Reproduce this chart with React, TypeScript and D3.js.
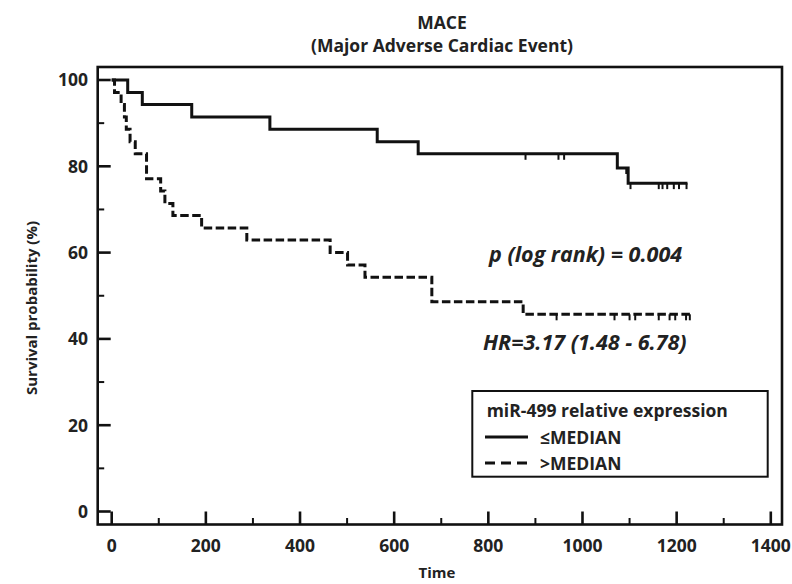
import React from 'react';
import * as d3 from 'd3';

// ---- data ----
const solidTimes = [0, 34, 65, 170, 336, 564, 651, 1074, 1097, 1223];
const solidSurvival = [100, 97.1, 94.3, 91.4, 88.6, 85.7, 82.9, 79.6, 76.1, 76.1];
const solidCensored = [879, 949, 961, 1093, 1102, 1162, 1170, 1180, 1194, 1205, 1221];

const dashedTimes = [0, 6, 20, 27, 31, 39, 50, 74, 104, 113, 130, 191, 287, 464, 501, 538, 680, 874, 1230];
const dashedSurvival = [100, 97.1, 94.3, 91.4, 88.6, 85.7, 82.9, 77.1, 74.3, 71.4, 68.6, 65.7, 62.9, 60.0, 57.1, 54.3, 48.6, 45.7, 45.7];
const dashedCensored = [945, 1068, 1100, 1112, 1162, 1185, 1197, 1220, 1228];

const xTicks = [0, 200, 400, 600, 800, 1000, 1200, 1400];
const xMinorTicks = [100, 300, 500, 700, 900, 1100, 1300];
const yTicks = [0, 20, 40, 60, 80, 100];
const yMinorTicks = [10, 30, 50, 70, 90];

const titleLines = ['MACE', '(Major Adverse Cardiac Event)'];
const xLabel = 'Time';
const yLabel = 'Survival probability (%)';
const pText = 'p (log rank) = 0.004';
const hrText = 'HR=3.17 (1.48 - 6.78)';
const legendTitle = 'miR-499 relative expression';
const seriesNames = ['\u2264MEDIAN', '>MEDIAN'];

const FONT = "'Open Sans', 'Noto Sans', sans-serif";

export default function App() {
  const W = 792, H = 584;
  const x = d3.scaleLinear().domain([0, 1400]).range([111.7, 770.8]);
  const y = d3.scaleLinear().domain([0, 100]).range([511.5, 80]);
  const frame = { left: 97.7, right: 782, top: 67, bottom: 524.5 };

  const line = d3
    .line<[number, number]>()
    .x((d) => x(d[0]))
    .y((d) => y(d[1]))
    .curve(d3.curveStepAfter);

  const solidPts: [number, number][] = solidTimes.map((t, i) => [t, solidSurvival[i]]);
  const dashedPts: [number, number][] = dashedTimes.map((t, i) => [t, dashedSurvival[i]]);

  const survAt = (times: number[], surv: number[], t: number) => {
    const i = d3.bisectRight(times, t) - 1;
    return surv[Math.max(0, i)];
  };

  const majorLen = 13;
  const minorLen = 6.5;
  const sw = 2.6;

  return (
    <svg
      width={W}
      height={H}
      style={{ position: 'fixed', left: 0, top: 0, background: '#fff' }}
      fontFamily={FONT}
      fontWeight={700}
    >
      <rect x={0} y={0} width={W} height={H} fill="#fff" />
      {/* title */}
      <text x={442} y={29} textAnchor="middle" fontSize={17.5} fill="#222">
        {titleLines[0]}
      </text>
      <text x={442} y={52} textAnchor="middle" fontSize={17.5} fill="#222">
        {titleLines[1]}
      </text>

      {/* frame */}
      <rect
        x={frame.left}
        y={frame.top}
        width={frame.right - frame.left}
        height={frame.bottom - frame.top}
        fill="none"
        stroke="#111"
        strokeWidth={sw}
      />

      {/* x ticks */}
      {xTicks.map((t) => (
        <g key={'xt' + t}>
          <line x1={x(t)} x2={x(t)} y1={frame.bottom} y2={frame.bottom - majorLen} stroke="#111" strokeWidth={sw} />
          <text x={x(t)} y={552} textAnchor="middle" fontSize={17.5} fill="#222">
            {t}
          </text>
        </g>
      ))}
      {xMinorTicks.map((t) => (
        <line key={'xm' + t} x1={x(t)} x2={x(t)} y1={frame.bottom} y2={frame.bottom - minorLen} stroke="#111" strokeWidth={2} />
      ))}

      {/* y ticks */}
      {yTicks.map((v) => (
        <g key={'yt' + v}>
          <line x1={frame.left} x2={frame.left + majorLen} y1={y(v)} y2={y(v)} stroke="#111" strokeWidth={sw} />
          <text x={88} y={y(v)} dy="0.36em" textAnchor="end" fontSize={17.5} fill="#222">
            {v}
          </text>
        </g>
      ))}
      {yMinorTicks.map((v) => (
        <line key={'ym' + v} x1={frame.left} x2={frame.left + minorLen} y1={y(v)} y2={y(v)} stroke="#111" strokeWidth={2} />
      ))}

      {/* axis labels */}
      <text x={437} y={578} textAnchor="middle" fontSize={15} fill="#222">
        {xLabel}
      </text>
      <text
        transform={`translate(37, 308) rotate(-90)`}
        textAnchor="middle"
        fontSize={15}
        fill="#222"
      >
        {yLabel}
      </text>

      {/* curves */}
      <path d={line(solidPts) || ''} fill="none" stroke="#111" strokeWidth={3} />
      <path d={line(dashedPts) || ''} fill="none" stroke="#111" strokeWidth={3} strokeDasharray="8.5,3.5" />

      {/* censored marks */}
      {solidCensored.map((t, i) => {
        const v = survAt(solidTimes, solidSurvival, t);
        return <line key={'sc' + i} x1={x(t)} x2={x(t)} y1={y(v)} y2={y(v) + 6} stroke="#111" strokeWidth={2} />;
      })}
      {dashedCensored.map((t, i) => {
        const v = survAt(dashedTimes, dashedSurvival, t);
        return <line key={'dc' + i} x1={x(t)} x2={x(t)} y1={y(v)} y2={y(v) + 6} stroke="#111" strokeWidth={2} />;
      })}

      {/* annotations */}
      <text x={489} y={262} fontSize={21.5} fontStyle="italic" fill="#222">
        {pText}
      </text>
      <text x={483} y={350} fontSize={21.5} fontStyle="italic" fill="#222">
        {hrText}
      </text>

      {/* legend */}
      <rect x={472.3} y={391} width={295.4} height={85.7} fill="#fff" stroke="#111" strokeWidth={2} />
      <text x={486.7} y={417} fontSize={17.5} fill="#222">
        {legendTitle}
      </text>
      <line x1={485} x2={528} y1={437} y2={437} stroke="#111" strokeWidth={3} />
      <text x={540} y={443.5} fontSize={17.5} fill="#222">
        {seriesNames[0]}
      </text>
      <line x1={485} x2={528} y1={463} y2={463} stroke="#111" strokeWidth={3} strokeDasharray="10,6" />
      <text x={540} y={469.5} fontSize={17.5} fill="#222">
        {seriesNames[1]}
      </text>
    </svg>
  );
}
